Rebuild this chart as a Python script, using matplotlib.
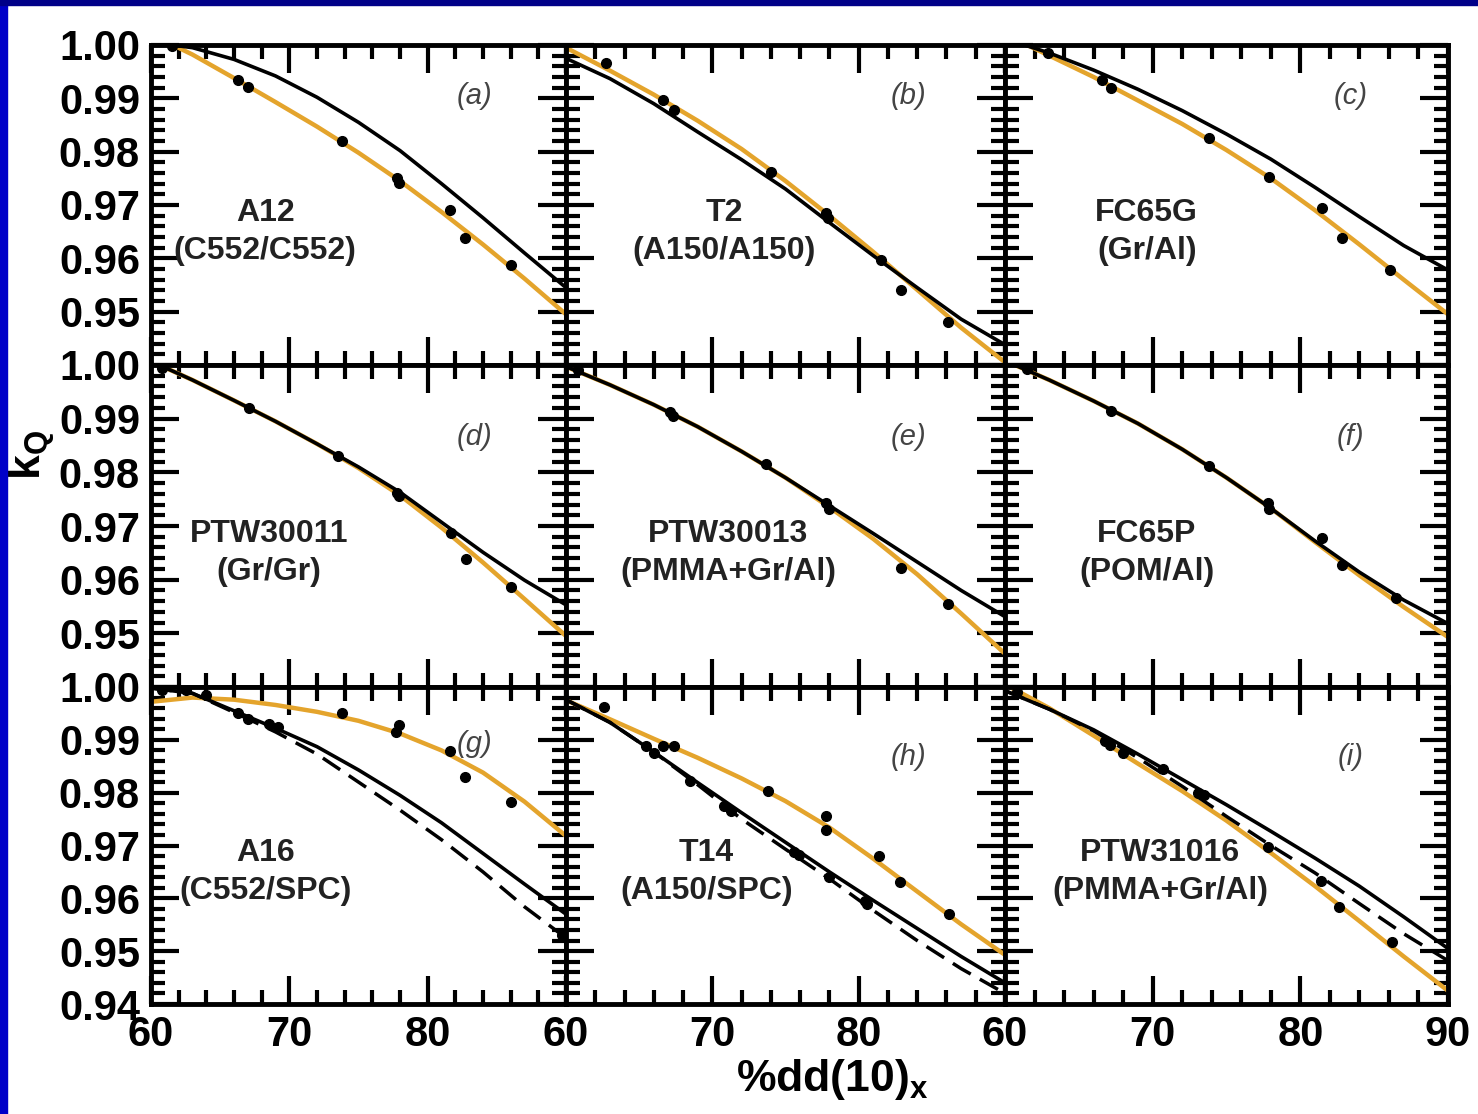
import numpy as np
import matplotlib
matplotlib.use("Agg")
import matplotlib.pyplot as plt
from matplotlib.ticker import MultipleLocator, FixedLocator, FixedFormatter
from matplotlib.patches import Rectangle

plt.rcParams['font.family'] = ['Liberation Sans', 'DejaVu Sans']
plt.rcParams['font.weight'] = 'bold'
plt.rcParams['mathtext.fontset'] = 'custom'
plt.rcParams['mathtext.rm'] = 'Liberation Sans:bold'
plt.rcParams['mathtext.bf'] = 'Liberation Sans:bold'

# common x grid (%dd(10)x) for the curves
xs = [60, 63, 66, 69, 72, 75, 78, 81, 84, 87, 90]

# (a) A12
black_a = [1.0005, 0.9995, 0.9973, 0.9942, 0.9902, 0.9855, 0.9802, 0.9740, 0.9676, 0.9610, 0.9545]
orange_a = [1.0020, 0.9982, 0.9938, 0.9893, 0.9847, 0.9798, 0.9745, 0.9687, 0.9626, 0.9562, 0.9495]
dots_ax = [61.5, 66.3, 67.0, 73.8, 77.8, 77.9, 81.6, 82.7, 86.0]
dots_ay = [0.9998, 0.9935, 0.9922, 0.9820, 0.9750, 0.9742, 0.9690, 0.9638, 0.9588]

# (b) T2
black_b = [0.9975, 0.9937, 0.9890, 0.9837, 0.9785, 0.9730, 0.9667, 0.9605, 0.9545, 0.9486, 0.9438]
orange_b = [0.9995, 0.9952, 0.9907, 0.9858, 0.9805, 0.9745, 0.9680, 0.9612, 0.9541, 0.9470, 0.9405]
dots_bx = [62.7, 66.6, 67.4, 74.0, 77.8, 77.9, 81.5, 82.9, 86.1]
dots_by = [0.9966, 0.9897, 0.9878, 0.9762, 0.9685, 0.9675, 0.9597, 0.9540, 0.9480]

# (c) FC65G
black_c = [1.0012, 0.9985, 0.9953, 0.9917, 0.9877, 0.9833, 0.9786, 0.9733, 0.9678, 0.9624, 0.9578]
orange_c = [1.0020, 0.9980, 0.9940, 0.9896, 0.9852, 0.9803, 0.9750, 0.9690, 0.9626, 0.9560, 0.9495]
dots_cx = [62.9, 66.6, 67.2, 73.8, 77.9, 81.5, 82.8, 86.1]
dots_cy = [0.9985, 0.9934, 0.9919, 0.9826, 0.9752, 0.9694, 0.9638, 0.9578]

# (d) PTW30011
black_d = [1.0007, 0.9972, 0.9934, 0.9895, 0.9853, 0.9810, 0.9763, 0.9707, 0.9651, 0.9599, 0.9553]
orange_d = [1.0007, 0.9972, 0.9934, 0.9895, 0.9853, 0.9808, 0.9757, 0.9697, 0.9632, 0.9564, 0.9495]
dots_dx = [60.8, 67.1, 73.5, 77.8, 77.9, 81.7, 82.8, 86.0]
dots_dy = [0.9995, 0.9920, 0.9831, 0.9762, 0.9755, 0.9687, 0.9638, 0.9587]

# (e) PTW30013
black_e = [0.9997, 0.9963, 0.9926, 0.9885, 0.9839, 0.9790, 0.9738, 0.9686, 0.9633, 0.9580, 0.9531]
orange_e = [0.9997, 0.9963, 0.9926, 0.9885, 0.9839, 0.9790, 0.9735, 0.9676, 0.9610, 0.9537, 0.9462]
dots_ex = [60.8, 67.1, 67.3, 73.7, 77.8, 78.0, 82.9, 86.1]
dots_ey = [0.9990, 0.9912, 0.9905, 0.9816, 0.9742, 0.9732, 0.9621, 0.9555]

# (f) FC65P
black_f = [1.0008, 0.9972, 0.9933, 0.9891, 0.9843, 0.9790, 0.9733, 0.9672, 0.9614, 0.9562, 0.9518]
orange_f = [1.0008, 0.9972, 0.9933, 0.9891, 0.9843, 0.9790, 0.9733, 0.9670, 0.9608, 0.9549, 0.9493]
dots_fx = [61.5, 67.2, 73.8, 77.8, 77.9, 81.5, 82.8, 86.5]
dots_fy = [0.9992, 0.9915, 0.9812, 0.9743, 0.9731, 0.9677, 0.9628, 0.9565]

# (g) A16
black_g = [0.9998, 0.9988, 0.9955, 0.9922, 0.9887, 0.9843, 0.9795, 0.9743, 0.9685, 0.9627, 0.9570]
dashed_g = [0.9998, 0.9988, 0.9952, 0.9915, 0.9873, 0.9820, 0.9767, 0.9711, 0.9650, 0.9584, 0.9525]
orange_g = [0.9972, 0.9980, 0.9976, 0.9966, 0.9953, 0.9936, 0.9912, 0.9880, 0.9838, 0.9783, 0.9718]
dots_gx = [60.8, 62.5, 64.0, 66.3, 67.0, 68.5, 69.2, 73.8, 77.7, 77.9, 81.6, 82.7, 86.0, 89.7]
dots_gy = [0.9995, 0.9995, 0.9985, 0.9950, 0.9940, 0.9930, 0.9925, 0.9951, 0.9914, 0.9929, 0.9879,
           0.9830, 0.9783, 0.9530]

# (h) T14
black_h = [0.9976, 0.9933, 0.9877, 0.9819, 0.9762, 0.9706, 0.9650, 0.9596, 0.9543, 0.9490, 0.9440]
dashed_h = [0.9976, 0.9933, 0.9877, 0.9815, 0.9750, 0.9693, 0.9637, 0.9577, 0.9520, 0.9467, 0.9420]
orange_h = [0.9975, 0.9939, 0.9902, 0.9866, 0.9827, 0.9784, 0.9734, 0.9675, 0.9613, 0.9551, 0.9493]
dots_hx = [62.6, 65.5, 66.0, 66.6, 67.4, 68.5, 70.8, 71.3, 73.8, 75.6, 75.9, 77.8, 77.8, 78.0,
           80.4, 80.6, 81.4, 82.8, 86.2]
dots_hy = [0.9963, 0.9888, 0.9876, 0.9888, 0.9888, 0.9822, 0.9775, 0.9765, 0.9804, 0.9688, 0.9682,
           0.9755, 0.9730, 0.9640, 0.9595, 0.9590, 0.9680, 0.9630, 0.9570]

# (i) PTW31016
black_i = [0.9993, 0.9958, 0.9919, 0.9873, 0.9825, 0.9777, 0.9727, 0.9676, 0.9623, 0.9565, 0.9505]
dashed_i = [0.9993, 0.9958, 0.9917, 0.9866, 0.9812, 0.9755, 0.9700, 0.9648, 0.9590, 0.9533, 0.9482]
orange_i = [1.0005, 0.9960, 0.9908, 0.9855, 0.9803, 0.9747, 0.9686, 0.9623, 0.9557, 0.9490, 0.9425]
dots_ix = [60.8, 66.8, 67.1, 68.0, 70.7, 73.1, 73.5, 77.8, 81.4, 82.6, 86.2]
dots_iy = [0.9990, 0.9898, 0.9890, 0.9875, 0.9845, 0.9800, 0.9795, 0.9698, 0.9633, 0.9583, 0.9518]

letters = ['(a)', '(b)', '(c)', '(d)', '(e)', '(f)', '(g)', '(h)', '(i)']
names = ['A12\n(C552/C552)', 'T2\n(A150/A150)', 'FC65G\n(Gr/Al)',
         'PTW30011\n(Gr/Gr)', 'PTW30013\n(PMMA+Gr/Al)', 'FC65P\n(POM/Al)',
         'A16\n(C552/SPC)', 'T14\n(A150/SPC)', 'PTW31016\n(PMMA+Gr/Al)']
name_x = [0.275, 0.36, 0.32, 0.285, 0.37, 0.32, 0.275, 0.32, 0.35]
letter_y = [0.84, 0.84, 0.84, 0.775, 0.775, 0.775, 0.82, 0.78, 0.78]

panels = [
    (black_a, None, orange_a, dots_ax, dots_ay),
    (black_b, None, orange_b, dots_bx, dots_by),
    (black_c, None, orange_c, dots_cx, dots_cy),
    (black_d, None, orange_d, dots_dx, dots_dy),
    (black_e, None, orange_e, dots_ex, dots_ey),
    (black_f, None, orange_f, dots_fx, dots_fy),
    (black_g, dashed_g, orange_g, dots_gx, dots_gy),
    (black_h, dashed_h, orange_h, dots_hx, dots_hy),
    (black_i, dashed_i, orange_i, dots_ix, dots_iy),
]

W, H = 1478, 1114
col_edges = [151, 566, 1005, 1448]
row_edges = [45, 365, 687, 1004]
orange = '#E4A42C'

fig = plt.figure(figsize=(W / 100, H / 100), dpi=100)
fig.patches.append(Rectangle((0, 0), 7 / W, 1, transform=fig.transFigure, color='#0000C8', zorder=10))
fig.patches.append(Rectangle((0, 1 - 5 / H), 1, 5 / H, transform=fig.transFigure, color='#000088', zorder=10))

for k, (blk, dsh, org, dx, dy) in enumerate(panels):
    r, c = divmod(k, 3)
    left = col_edges[c] / W
    width = (col_edges[c + 1] - col_edges[c]) / W
    bottom = 1 - row_edges[r + 1] / H
    height = (row_edges[r + 1] - row_edges[r]) / H
    ax = fig.add_axes([left, bottom, width, height])

    ax.plot(xs, org, color=orange, lw=3.2, zorder=2)
    if dsh is not None:
        ax.plot(xs, dsh, color='black', lw=2.5, dashes=(6, 3), zorder=3)
    ax.plot(xs, blk, color='black', lw=2.6, zorder=3)
    ax.plot(dx, dy, 'o', color='black', ms=7, zorder=4)

    ax.set_xlim(60, 90)
    ax.set_ylim(0.94, 1.00)
    ax.xaxis.set_major_locator(FixedLocator([60, 70, 80, 90]))
    ax.xaxis.set_minor_locator(MultipleLocator(2))
    ax.yaxis.set_major_locator(FixedLocator([0.94, 0.95, 0.96, 0.97, 0.98, 0.99, 1.00]))
    ax.yaxis.set_minor_locator(MultipleLocator(0.002))
    ax.tick_params(which='both', direction='in', top=True, right=True, width=3)
    ax.tick_params(which='major', length=20, labelsize=30, pad=8)
    ax.tick_params(which='minor', length=10)
    for sp in ax.spines.values():
        sp.set_linewidth(3.5)

    if r == 2:
        xl = ['60', '70', '80', '90'] if c == 2 else ['60', '70', '80', '']
        ax.xaxis.set_major_formatter(FixedFormatter(xl))
    else:
        ax.set_xticklabels([])
    if c == 0:
        yl = ['0.94' if r == 2 else '', '0.95', '0.96', '0.97', '0.98', '0.99', '1.00']
        ax.yaxis.set_major_formatter(FixedFormatter(yl))
    else:
        ax.set_yticklabels([])

    ax.text(0.78, letter_y[k], letters[k], transform=ax.transAxes, fontsize=21,
            style='italic', fontweight='normal', color='#444444', ha='center', va='center')
    ax.text(name_x[k], 0.415, names[k], transform=ax.transAxes, fontsize=23,
            ha='center', va='center', linespacing=1.35, color='#222222')

fig.text(832 / W, 1 - 1080 / H, '%dd(10)$_\\mathbf{x}$', fontsize=32, ha='center', va='center')
fig.text(32 / W, 1 - 455 / H, 'k$_\\mathbf{Q}$', fontsize=32, rotation=90, ha='center', va='center')

fig.savefig('out.png', dpi=100, facecolor='white')
